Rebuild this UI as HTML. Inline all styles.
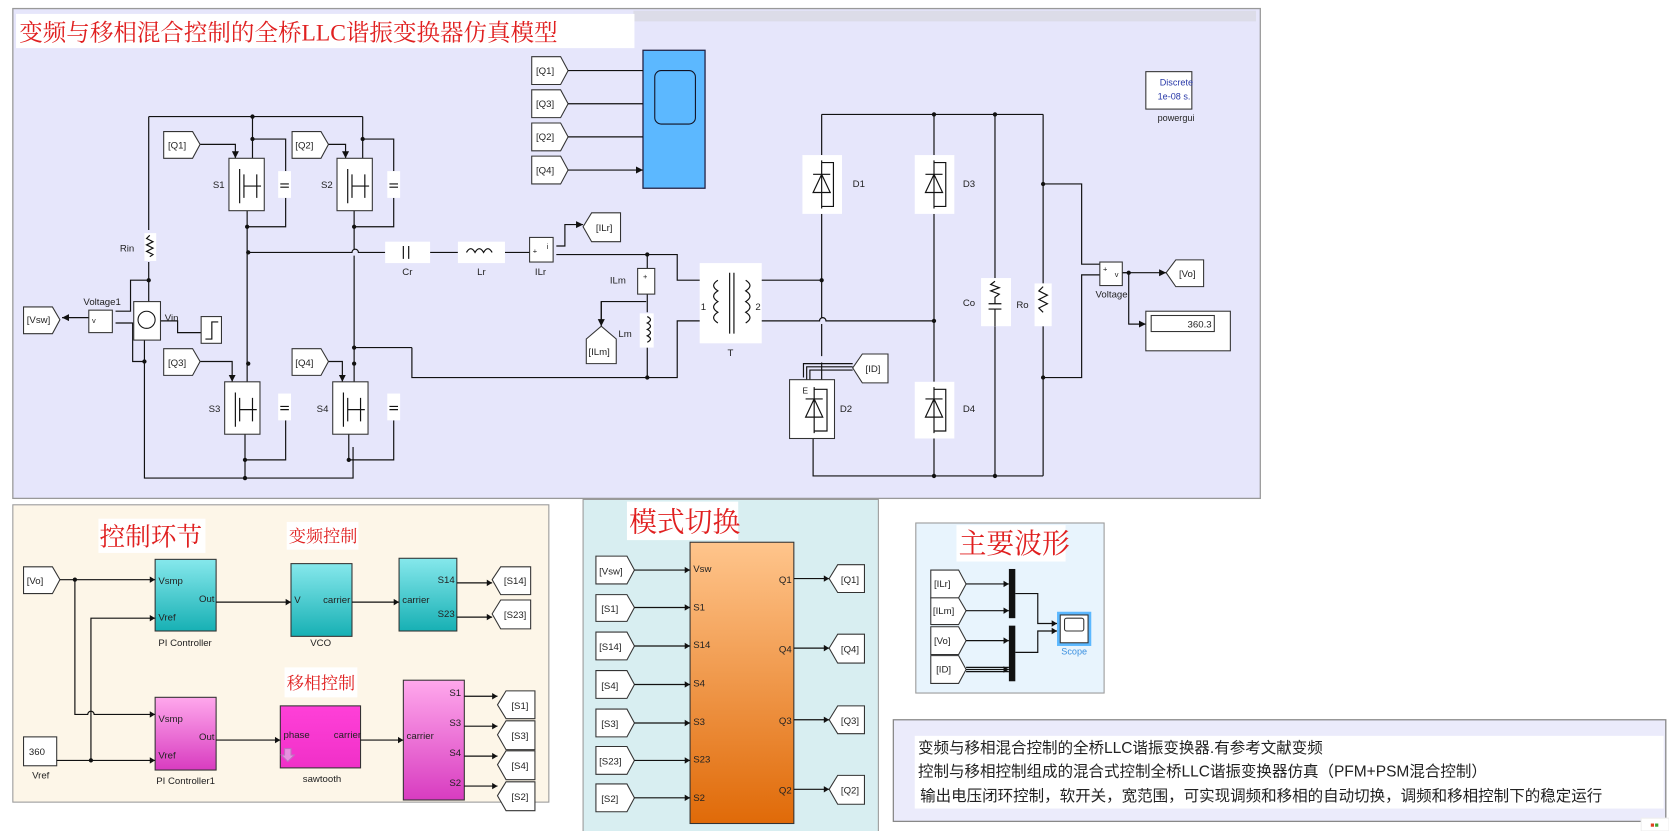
<!DOCTYPE html>
<html><head><meta charset="utf-8"><style>
html,body{margin:0;padding:0;background:#fff;}
svg{display:block}
text{font-family:"Liberation Sans",sans-serif;font-size:9px;fill:#222}
.cn{font-family:"Liberation Serif","Noto Serif CJK SC",serif;fill:#e02020}
.w{stroke:#111;stroke-width:1.1;fill:none}
.tag{fill:#fff;stroke:#333;stroke-width:1}
.blk{fill:#fff;stroke:#333;stroke-width:1}
.wh{fill:#fff;stroke:none}
</style></head><body>
<svg width="1669" height="831" viewBox="0 0 1560 777" preserveAspectRatio="none" xmlns="http://www.w3.org/2000/svg">
<defs>
<marker id="a" viewBox="0 0 10 10" refX="10" refY="5" markerWidth="6" markerHeight="6" orient="auto"><path d="M0,0L10,5L0,10z" fill="#111"/></marker>
<linearGradient id="teal" x1="0" y1="0" x2="0" y2="1"><stop offset="0" stop-color="#86e8ec"/><stop offset="1" stop-color="#17b0b4"/></linearGradient>
<linearGradient id="pink" x1="0" y1="0" x2="0" y2="1"><stop offset="0" stop-color="#ffa8ec"/><stop offset="1" stop-color="#d83cc0"/></linearGradient>
<linearGradient id="mag" x1="0" y1="0" x2="0" y2="1"><stop offset="0" stop-color="#ff40d8"/><stop offset="1" stop-color="#f030c8"/></linearGradient>
<linearGradient id="org" x1="0" y1="0" x2="0" y2="1"><stop offset="0" stop-color="#ffc58c"/><stop offset="1" stop-color="#e06a08"/></linearGradient>
</defs>

<!-- main panel -->
<rect x="12" y="8" width="1166" height="458" fill="#e6e6fb" stroke="#999" stroke-width="1.2"/>
<rect x="592" y="10" width="582" height="10" fill="#dcdce8"/>
<rect x="15" y="13" width="578" height="32" fill="#fff"/>
<text x="18" y="38" class="cn" style="font-size:22px">变频与移相混合控制的全桥LLC谐振变换器仿真模型</text>

<!-- scope top -->
<rect x="601" y="47" width="58" height="129" fill="#5cb8ff" stroke="#224" stroke-width="1.2"/>
<rect x="612" y="66" width="38" height="50" rx="6" fill="#5cb8ff" stroke="#112" stroke-width="1"/>
<g>
<polygon class="tag" points="497,53 524,53 531,66 524,79 497,79"/><text x="501" y="69">[Q1]</text>
<polygon class="tag" points="497,84 524,84 531,97 524,110 497,110"/><text x="501" y="100">[Q3]</text>
<polygon class="tag" points="497,115 524,115 531,128 524,141 497,141"/><text x="501" y="131">[Q2]</text>
<polygon class="tag" points="497,146 524,146 531,159 524,172 497,172"/><text x="501" y="162">[Q4]</text>
<path class="w" marker-end="url(#a)" d="M531,66H601M531,97H601M531,128H601M531,159H601"/>
</g>
<!-- powergui -->
<rect x="1071" y="67" width="43" height="35" fill="#fff" stroke="#333"/>
<text x="1084" y="80" style="fill:#2838a8;font-size:8.5px">Discrete</text>
<text x="1082" y="93" style="fill:#2838a8;font-size:8.5px">1e-08 s.</text>
<text x="1082" y="113" style="font-size:8.5px">powergui</text>

<!-- left circuit wires -->
<path class="w" d="M139,109H339M139,109V215M139,245V262M139,262H122V291H108M139,262V282M236,109V148M236,130H267V160M339,109V148M339,130H368V160
M231,197V357M231,212H267V185M331,197V233M331,239V357M331,212H368V185
M232,236H329A3,3 0 0 1 335,236H360M402,236H428M472,236H495M520,238H633V262H655
M605,238V251M605,275V292M605,325V353M604,282H562V300M385,325H331M385,325V353H633V300H655
M108,302H124V338H135V447H330V418M135,338V312M145,318V300H166V311H188M229,406V447M229,430H267V393M326,406V430M326,430H368V393"/>
<path class="w" marker-end="url(#a)" d="M186,135H220V148"/>
<path class="w" marker-end="url(#a)" d="M306,135H323V148"/>
<path class="w" marker-end="url(#a)" d="M186,338H217V357"/>
<path class="w" marker-end="url(#a)" d="M306,338H320V357"/>
<path class="w" marker-end="url(#a)" d="M520,230H528V210H545"/>
<path class="w" marker-end="url(#a)" d="M562,282V305"/>
<path class="w" marker-end="url(#a)" d="M83,297H58"/>
<g fill="#111">
<circle cx="236" cy="109" r="2"/><circle cx="236" cy="130" r="2"/><circle cx="339" cy="130" r="2"/><circle cx="139" cy="262" r="2"/>
<circle cx="231" cy="212" r="2"/><circle cx="331" cy="212" r="2"/><circle cx="232" cy="236" r="2"/><circle cx="331" cy="325" r="2"/>
<circle cx="232" cy="340" r="2"/><circle cx="331" cy="340" r="2"/><circle cx="229" cy="430" r="2"/><circle cx="326" cy="430" r="2"/>
<circle cx="229" cy="447" r="2"/><circle cx="135" cy="338" r="2"/><circle cx="605" cy="238" r="2"/><circle cx="605" cy="353" r="2"/>
</g>
<!-- switches -->
<g>
<rect class="blk" x="214" y="148" width="33" height="49"/><rect class="blk" x="315" y="148" width="33" height="49"/>
<rect class="blk" x="210" y="357" width="33" height="49"/><rect class="blk" x="311" y="357" width="33" height="49"/>
<path class="w" d="M224,158V190M228,163V185M228,174H244M240,163V185M325,158V190M329,163V185M329,174H345M341,163V185M220,367V399M224,372V394M224,383H240M236,372V394M321,367V399M325,372V394M325,383H341M337,372V394"/>
<text x="199" y="176">S1</text><text x="300" y="176">S2</text><text x="195" y="385">S3</text><text x="296" y="385">S4</text>
<rect class="wh" x="260" y="160" width="12" height="25"/><rect class="wh" x="362" y="160" width="12" height="25"/>
<rect class="wh" x="260" y="368" width="12" height="25"/><rect class="wh" x="362" y="368" width="12" height="25"/>
<path class="w" d="M262,172H270M262,175H270M364,172H372M364,175H372M262,380H270M262,383H270M364,380H372M364,383H372"/>
</g>
<rect class="wh" x="135" y="218" width="11" height="26"/><path class="w" d="M140,220l-3,3 6,3 -6,3 6,3 -6,3 6,3 -3,2"/>
<text x="112" y="235">Rin</text>
<!-- tags left -->
<polygon class="tag" points="153,123 180,123 187,135 180,148 153,148"/><text x="157" y="139">[Q1]</text>
<polygon class="tag" points="273,123 300,123 307,135 300,148 273,148"/><text x="276" y="139">[Q2]</text>
<polygon class="tag" points="153,326 180,326 187,338 180,351 153,351"/><text x="157" y="342">[Q3]</text>
<polygon class="tag" points="273,326 300,326 307,338 300,351 273,351"/><text x="276" y="342">[Q4]</text>
<polygon class="tag" points="22,287 49,287 56,299 49,312 22,312"/><text x="25" y="302">[Vsw]</text>
<rect class="blk" x="83" y="290" width="22" height="21"/><text x="86" y="302" style="font-size:7px">v</text>
<text x="78" y="285">Voltage1</text>
<rect class="blk" x="125" y="282" width="25" height="36"/><circle cx="137" cy="299" r="8" fill="none" stroke="#111"/>
<text x="154" y="300">Vin</text>
<rect class="blk" x="188" y="296" width="19" height="25"/><path class="w" d="M192,317H198V301H204"/>
<!-- Cr Lr ILr -->
<rect class="wh" x="360" y="226" width="42" height="20"/><path class="w" d="M377,230V242M382,230V242"/>
<rect class="wh" x="428" y="226" width="44" height="20"/><path class="w" d="M436,236q4,-7 8,0q4,-7 8,0q4,-7 8,0"/>
<text x="376" y="257">Cr</text><text x="446" y="257">Lr</text>
<rect class="blk" x="495" y="222" width="22" height="23"/><text x="498" y="237" style="font-size:7px">+</text><text x="511" y="233" style="font-size:7px">i</text>
<text x="500" y="257">ILr</text>
<polygon class="tag" points="545,212 553,199 580,199 580,226 553,226"/><text x="557" y="216">[ILr]</text>
<rect class="blk" x="596" y="251" width="16" height="24"/><text x="601" y="261" style="font-size:7px">+</text>
<text x="570" y="265">ILm</text>
<polygon class="tag" points="548,317 562,305 576,317 576,340 548,340"/><text x="550" y="332">[ILm]</text>
<rect class="wh" x="598" y="293" width="13" height="32"/><path class="w" d="M605,296q6,3 0,6q6,3 0,6q6,3 0,6q6,3 0,6"/>
<text x="578" y="315">Lm</text>
<!-- Transformer -->
<rect class="wh" x="654" y="246" width="58" height="75"/>
<path class="w" d="M682,255V312M686,255V312M671,262q-8,5 0,10q-8,5 0,10q-8,5 0,10q-8,5 0,10M697,262q8,5 0,10q8,5 0,10q8,5 0,10q8,5 0,10"/>
<text x="655" y="290">1</text><text x="706" y="290">2</text><text x="680" y="333">T</text>
<path class="w" d="M712,262H768M712,300H766A3,3 0 0 1 772,300H873"/>
<!-- right side -->
<path class="w" d="M768,107H975M768,107V145M768,200V297M768,303V333M768,339V355M873,107V145M873,200V357M873,410V445M760,410V445H975M930,107V260M930,305V445M975,107V265M975,305V445M975,172H1011V247H1028M975,353H1011V257H1028M1049,255H1055V303H1071"/>
<path class="w" marker-end="url(#a)" d="M1049,255H1090"/>
<path class="w" marker-end="url(#a)" d="M1055,303H1071"/>
<path class="w" d="M751,353V340H797M754,355V343H797M757,355V346H797"/>
<g fill="#111"><circle cx="873" cy="107" r="2"/><circle cx="930" cy="107" r="2"/><circle cx="768" cy="262" r="2"/><circle cx="873" cy="300" r="2"/><circle cx="975" cy="172" r="2"/><circle cx="975" cy="353" r="2"/><circle cx="873" cy="445" r="2"/><circle cx="930" cy="445" r="2"/><circle cx="1055" cy="255" r="2"/></g>
<g>
<rect class="wh" x="750" y="145" width="37" height="55"/><rect class="wh" x="855" y="145" width="37" height="55"/><rect class="wh" x="855" y="357" width="37" height="53"/>
<rect class="blk" x="738" y="355" width="42" height="55"/>
<path class="w" d="M768,150V195M760,180H776L768,163Z M760,163H776M768,152H779V193H768 M873,150V195M865,180H881L873,163ZM865,163H881M873,152H884V193H873 M873,362V405M865,390H881L873,373ZM865,373H881M873,364H884V403H873 M761,362V405M753,390H769L761,373ZM753,373H769M761,364H773V403H761"/>
<text x="797" y="175">D1</text><text x="900" y="175">D3</text><text x="785" y="385">D2</text><text x="900" y="385">D4</text><text x="750" y="368" style="font-size:8px">E</text>
</g>
<polygon class="tag" points="797,344 806,331 830,331 830,358 806,358"/><text x="809" y="348">[ID]</text>
<rect class="wh" x="917" y="260" width="28" height="45"/><path class="w" d="M930,263l-4,3 8,3 -8,3 8,3 -4,3V284M924,284H936M924,289H936M930,289V305"/>
<rect class="wh" x="967" y="265" width="16" height="40"/><path class="w" d="M975,268l-4,4 8,4 -8,4 8,4 -8,4 4,4"/>
<text x="900" y="286">Co</text><text x="950" y="288">Ro</text>
<rect class="blk" x="1028" y="245" width="21" height="22"/><text x="1031" y="254" style="font-size:7px">+</text><text x="1042" y="259" style="font-size:7px">v</text>
<text x="1024" y="278">Voltage</text>
<polygon class="tag" points="1090,255 1099,243 1125,243 1125,268 1099,268"/><text x="1102" y="259">[Vo]</text>
<rect class="blk" x="1071" y="291" width="79" height="37" stroke-width="1.5"/><rect x="1076" y="295" width="59" height="15" fill="#fff" stroke="#333"/><text x="1110" y="306">360.3</text>

<!-- control panel -->
<rect x="12" y="472" width="501" height="278" fill="#fdf6e8" stroke="#999"/>
<rect x="92" y="485" width="100" height="32" fill="#fff"/><text x="93" y="510" class="cn" style="font-size:24px">控制环节</text>
<rect x="268" y="488" width="67" height="26" fill="#fff"/><text x="270" y="507" class="cn" style="font-size:16px">变频控制</text>
<rect x="266" y="624" width="68" height="28" fill="#fff"/><text x="268" y="644" class="cn" style="font-size:16px">移相控制</text>
<polygon class="tag" points="22,530 49,530 56,542 49,555 22,555"/><text x="25" y="546">[Vo]</text>
<rect x="145" y="523" width="57" height="67" fill="url(#teal)" stroke="#333"/>
<text x="148" y="546">Vsmp</text><text x="186" y="563">Out</text><text x="148" y="580">Vref</text><text x="148" y="604">PI Controller</text>
<rect x="272" y="527" width="57" height="68" fill="url(#teal)" stroke="#333"/>
<text x="275" y="564">V</text><text x="302" y="564">carrier</text><text x="290" y="604">VCO</text>
<rect x="373" y="522" width="54" height="68" fill="url(#teal)" stroke="#333"/>
<text x="376" y="564">carrier</text><text x="409" y="545">S14</text><text x="409" y="577">S23</text>
<polygon class="tag" points="460,542 468,530 496,530 496,556 468,556"/><text x="471" y="546">[S14]</text>
<polygon class="tag" points="460,574 468,561 496,561 496,588 468,588"/><text x="471" y="578">[S23]</text>
<rect x="145" y="652" width="57" height="68" fill="url(#pink)" stroke="#333"/>
<text x="148" y="675">Vsmp</text><text x="186" y="692">Out</text><text x="148" y="709">Vref</text><text x="146" y="733">PI Controller1</text>
<rect x="262" y="660" width="75" height="58" fill="url(#mag)" stroke="#333"/>
<text x="265" y="690">phase</text><text x="312" y="690">carrier</text><text x="283" y="731">sawtooth</text>
<path d="M266,700h6v6h3l-6,6 -6,-6h3z" fill="#e890e0" stroke="#c070c0"/>
<rect x="377" y="636" width="57" height="112" fill="url(#pink)" stroke="#333"/>
<text x="380" y="691">carrier</text><text x="420" y="651">S1</text><text x="420" y="679">S3</text><text x="420" y="707">S4</text><text x="420" y="735">S2</text>
<polygon class="tag" points="465,659 473,646 500,646 500,672 473,672"/><text x="478" y="663">[S1]</text>
<polygon class="tag" points="465,687 473,674 500,674 500,701 473,701"/><text x="478" y="691">[S3]</text>
<polygon class="tag" points="465,715 473,702 500,702 500,729 473,729"/><text x="478" y="719">[S4]</text>
<polygon class="tag" points="465,744 473,731 500,731 500,758 473,758"/><text x="478" y="748">[S2]</text>
<rect class="blk" x="22" y="689" width="31" height="27"/><text x="27" y="706">360</text><text x="30" y="728">Vref</text>
<path class="w" d="M56,542H145M70,542V668H82A3,3 0 0 1 88,668H145M53,711H145M85,711V578H145M202,563H272M329,563H373M202,692H262M337,692H377M427,545H460M427,577H460M434,651H465M434,679H465M434,707H465M434,735H465"/>
<g fill="#111"><polygon points="140,539 145,542 140,545"/><polygon points="140,575 145,578 140,581"/><polygon points="140,665 145,668 140,671"/><polygon points="140,708 145,711 140,714"/><polygon points="267,560 272,563 267,566"/><polygon points="368,560 373,563 368,566"/><polygon points="257,689 262,692 257,695"/><polygon points="372,689 377,692 372,695"/>
<circle cx="70" cy="542" r="2"/><circle cx="85" cy="711" r="2"/></g>
<g fill="#111"><polygon points="455,542 460,545 455,548"/><polygon points="455,574 460,577 455,580"/><polygon points="460,648 465,651 460,654"/><polygon points="460,676 465,679 460,682"/><polygon points="460,704 465,707 460,710"/><polygon points="460,732 465,735 460,738"/></g>

<!-- mode panel -->
<rect x="545" y="467" width="276" height="312" fill="#d8eef1" stroke="#999"/>
<rect x="586" y="469" width="104" height="36" fill="#fff"/><text x="588" y="497" class="cn" style="font-size:26px">模式切换</text>
<rect x="645" y="507" width="97" height="263" fill="url(#org)" stroke="#333"/>
<g style="font-size:8.5px">
<text x="648" y="535">Vsw</text><text x="648" y="571">S1</text><text x="648" y="606">S14</text><text x="648" y="642">S4</text><text x="648" y="678">S3</text><text x="648" y="713">S23</text><text x="648" y="749">S2</text>
<text x="728" y="545">Q1</text><text x="728" y="610">Q4</text><text x="728" y="677">Q3</text><text x="728" y="742">Q2</text>
</g>
<polygon class="tag" points="557,520 586,520 593,533 586,546 557,546"/><text x="560" y="537">[Vsw]</text>
<polygon class="tag" points="557,556 586,556 593,568 586,581 557,581"/><text x="562" y="572">[S1]</text>
<polygon class="tag" points="557,591 586,591 593,604 586,617 557,617"/><text x="560" y="608">[S14]</text>
<polygon class="tag" points="557,627 586,627 593,640 586,653 557,653"/><text x="562" y="644">[S4]</text>
<polygon class="tag" points="557,663 586,663 593,676 586,689 557,689"/><text x="562" y="680">[S3]</text>
<polygon class="tag" points="557,698 586,698 593,711 586,724 557,724"/><text x="560" y="715">[S23]</text>
<polygon class="tag" points="557,733 586,733 593,746 586,759 557,759"/><text x="562" y="750">[S2]</text>
<path class="w" d="M593,533H645M593,568H645M593,604H645M593,640H645M593,676H645M593,711H645M593,746H645M742,541H775M742,606H775M742,673H775M742,738H775"/>
<g fill="#111"><polygon points="640,530 645,533 640,536"/><polygon points="640,565 645,568 640,571"/><polygon points="640,601 645,604 640,607"/><polygon points="640,637 645,640 640,643"/><polygon points="640,673 645,676 640,679"/><polygon points="640,708 645,711 640,714"/><polygon points="640,743 645,746 640,749"/>
<polygon points="770,538 775,541 770,544"/><polygon points="770,603 775,606 770,609"/><polygon points="770,670 775,673 770,676"/><polygon points="770,735 775,738 770,741"/></g>
<polygon class="tag" points="775,541 783,528 808,528 808,554 783,554"/><text x="786" y="545">[Q1]</text>
<polygon class="tag" points="775,606 783,593 808,593 808,620 783,620"/><text x="786" y="610">[Q4]</text>
<polygon class="tag" points="775,673 783,660 808,660 808,686 783,686"/><text x="786" y="677">[Q3]</text>
<polygon class="tag" points="775,738 783,725 808,725 808,752 783,752"/><text x="786" y="742">[Q2]</text>

<!-- waveform panel -->
<rect x="856" y="489" width="176" height="159" fill="#e8f4fd" stroke="#999"/>
<rect x="894" y="491" width="102" height="34" fill="#fff"/><text x="896" y="517" class="cn" style="font-size:26px">主要波形</text>
<polygon class="tag" points="870,533 896,533 903,546 896,559 870,559"/><text x="873" y="549">[ILr]</text>
<polygon class="tag" points="870,559 896,559 903,571 896,584 870,584"/><text x="872" y="574">[ILm]</text>
<polygon class="tag" points="870,586 896,586 903,599 896,612 870,612"/><text x="873" y="602">[Vo]</text>
<polygon class="tag" points="870,613 896,613 903,626 896,639 870,639"/><text x="875" y="629">[ID]</text>
<rect x="943" y="532" width="6" height="46" fill="#111"/><rect x="943" y="585" width="6" height="52" fill="#111"/>
<path class="w" d="M903,546H943M903,571H943M903,599H943M903,624H943M903,626H943M903,628H943M949,555H970V583H988M949,610H970V590H988"/>
<g fill="#111"><polygon points="938,543 943,546 938,549"/><polygon points="938,568 943,571 938,574"/><polygon points="938,596 943,599 938,602"/><polygon points="938,623 943,626 938,629"/><polygon points="983,580 988,583 983,586"/><polygon points="983,587 988,590 983,593"/></g>
<rect x="988" y="572" width="32" height="32" fill="#5cb8ff"/><rect x="991" y="575" width="26" height="26" fill="#fff" stroke="#333"/><rect x="995" y="578" width="18" height="12" rx="2" fill="#fff" stroke="#333"/>
<text x="992" y="612" style="fill:#3a90e0;font-size:8.5px">Scope</text>

<!-- text panel -->
<rect x="835" y="673" width="722" height="95" fill="#ebebfb" stroke="#888" stroke-width="1.2"/>
<rect x="855" y="688" width="700" height="68" fill="#fff"/>
<g style="font-family:'Liberation Sans','Noto Serif CJK SC',serif;font-size:14.5px;fill:#111">
<text x="858" y="704" style="font-size:14.5px">变频与移相混合控制的全桥LLC谐振变换器.有参考文献变频</text>
<text x="858" y="726" style="font-size:14.5px">控制与移相控制组成的混合式控制全桥LLC谐振变换器仿真（PFM+PSM混合控制）</text>
<text x="860" y="749" style="font-size:14.5px">输出电压闭环控制，软开关，宽范围，可实现调频和移相的自动切换，调频和移相控制下的稳定运行</text>
</g>
<rect x="1534" y="765" width="26" height="12" fill="#fff" stroke="#eee"/>
<rect x="1543" y="770" width="3" height="3" fill="#e04020"/><rect x="1547" y="770" width="3" height="3" fill="#40a030"/>
</svg>
</body></html>
